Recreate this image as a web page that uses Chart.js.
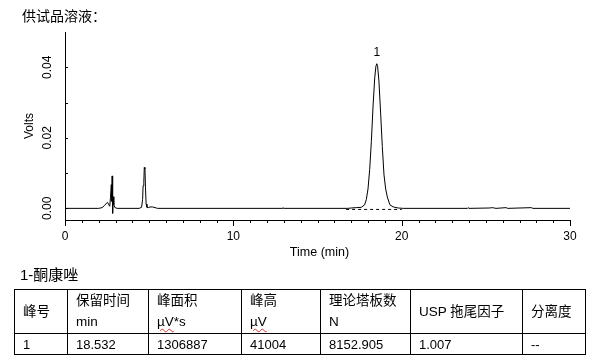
<!DOCTYPE html>
<html>
<head>
<meta charset="utf-8">
<script src="https://cdn.jsdelivr.net/npm/chart.js@4"></script>
<style>
  html, body { margin: 0; padding: 0; background: #fff; }
  #wrap { position: relative; width: 604px; height: 362px; overflow: hidden; background: #fff; }
  #c { position: absolute; left: 0; top: 0; }
  .txt { position: absolute; font-family: "Liberation Sans", "Noto Sans CJK SC", sans-serif; color: #000; white-space: nowrap; }
  #title { left: 22px; top: 6px; font-size: 14px; line-height: 20px; }
  #sub { left: 20px; top: 265px; font-size: 15px; line-height: 20px; }
  table { position: absolute; left: 14px; top: 289px; border-collapse: collapse; table-layout: fixed;
          font-family: "Liberation Sans", "Noto Sans CJK SC", sans-serif; font-size: 13px; color: #000; }
  td { border: 1px solid #000; padding: 0 0 0 8px; box-sizing: border-box; white-space: nowrap; overflow: hidden; }
  tr.h td { height: 44px; vertical-align: top; line-height: 21px; font-size: 13.5px; }
  tr.h td.m { vertical-align: middle; }
  tr.d td { height: 21px; vertical-align: middle; line-height: 19px; }
  .sq { text-decoration: underline wavy #e03030; text-decoration-thickness: 1px; text-underline-offset: 2px; }
</style>
</head>
<body>
<div id="wrap">
  <canvas id="c" width="604" height="362"></canvas>
  <div class="txt" id="title">供试品溶液：</div>
  <div class="txt" id="sub">1-酮康唑</div>
  <table id="tbl">
    <colgroup>
      <col style="width:53px"><col style="width:81px"><col style="width:93px"><col style="width:79px">
      <col style="width:90px"><col style="width:112px"><col style="width:63px">
    </colgroup>
    <tr class="h">
      <td class="m">峰号</td>
      <td>保留时间<br>min</td>
      <td>峰面积<br><span class="sq">µV</span>*s</td>
      <td>峰高<br><span class="sq">µV</span></td>
      <td>理论塔板数<br>N</td>
      <td class="m">USP 拖尾因子</td>
      <td class="m">分离度</td>
    </tr>
    <tr class="d" id="drow"></tr>
  </table>
</div>
<script>
// ---- Data ----
const times = [
  0, 2.0, 2.2, 2.35, 2.45, 2.53, 2.6, 2.66, 2.70, 2.75, 2.78, 2.80, 2.83, 2.86, 2.90, 2.97, 3.1,
  4.4, 4.55, 4.61, 4.64, 4.68, 4.71, 4.75, 4.78, 4.82, 4.87, 4.95, 5.05, 5.2, 5.35, 5.5,
  12.9, 12.95, 13.0,
  16.8, 17.0, 17.3, 17.6, 17.8, 17.9, 18.0, 18.1, 18.2, 18.3, 18.4, 18.47, 18.52, 18.57, 18.65,
  18.75, 18.85, 18.95, 19.05, 19.15, 19.3, 19.5, 19.8, 20.1,
  23.9, 23.95, 24.0, 25.2, 25.4, 25.6, 26.2, 26.3, 27.7, 27.8, 30
];
const volts = [
  0, 0, 0.0002, 0.0008, 0.0014, 0.0017, 0.0010, 0.0006, 0.0030, 0.0067, 0.0020, 0.0092, -0.0014, 0.0033, 0.0010, 0.0002, 0,
  0, 0.0003, 0.0025, 0.0064, 0.0070, 0.0116, 0.0112, 0.0060, 0.0012, 0.0003, 0.0002, 0.0004, 0.0004, 0.0002, 0,
  0, 0.0002, 0,
  0, 0.0001, 0.0002, 0.0003, 0.0010, 0.0025, 0.0055, 0.0110, 0.0190, 0.0290, 0.0370, 0.0403, 0.0410, 0.0403, 0.0360,
  0.0270, 0.0175, 0.0095, 0.0055, 0.0032, 0.0010, 0.0004, 0.0001, 0,
  0, 0.0002, 0, 0.0001, 0.0002, 0, 0.0002, 0, 0.0002, 0, 0
];
// Integration baseline under peak 1 (dashed)
const baseTimes = [16.7, 20.0];
const baseVolts = [-0.0003, -0.0003];
// Peak annotation
const peakLabels = ["1"];
const peakTimes = [18.52];
const peakHeights = [0.0410];
// Axis settings
const xMin = 0, xMax = 30, xStep = 1, xLabelEvery = 10;
const yMin = -0.0033, yMax = 0.05;
const yTickValues = [0, 0.01, 0.02, 0.03, 0.04];
const yTickLabels = ["0.00", "", "0.02", "", "0.04"];
const xTitle = "Time (min)";
const yTitle = "Volts";
// Table data row
const rowValues = ["1", "18.532", "1306887", "41004", "8152.905", "1.007", "--"];

document.getElementById('drow').innerHTML = rowValues.map(v => '<td>' + v + '</td>').join('');

const trace = times.map((t, i) => ({ x: t, y: volts[i] }));
const base = baseTimes.map((t, i) => ({ x: t, y: baseVolts[i] }));

const FONT = '"Liberation Sans", "DejaVu Sans", sans-serif';

const decor = {
  id: 'decor',
  afterDraw(chart) {
    const ctx = chart.ctx;
    const xs = chart.scales.x, ys = chart.scales.y;
    const ca = chart.chartArea;
    ctx.save();
    ctx.strokeStyle = '#000';
    ctx.lineWidth = 1;
    // x ticks (downward)
    xs.ticks.forEach(tk => {
      const px = Math.round(xs.getPixelForValue(tk.value)) + 0.5;
      const major = Math.abs(tk.value % xLabelEvery) < 1e-9;
      ctx.beginPath();
      ctx.moveTo(px, ca.bottom);
      ctx.lineTo(px, ca.bottom + (major ? 6 : 3));
      ctx.stroke();
    });
    // y ticks (inward) + rotated labels
    ctx.fillStyle = '#000';
    ctx.font = '12px ' + FONT;
    ctx.textAlign = 'center';
    ctx.textBaseline = 'middle';
    yTickValues.forEach((v, i) => {
      const py = Math.round(ys.getPixelForValue(v)) + 0.5;
      ctx.beginPath();
      ctx.moveTo(ca.left, py);
      ctx.lineTo(ca.left + 3, py);
      ctx.stroke();
      if (yTickLabels[i]) {
        ctx.save();
        ctx.translate(48, ys.getPixelForValue(v));
        ctx.rotate(-Math.PI / 2);
        ctx.fillText(yTickLabels[i], 0, 0);
        ctx.restore();
      }
    });
    // y title
    ctx.save();
    ctx.translate(30, (ca.top + ca.bottom) / 2);
    ctx.rotate(-Math.PI / 2);
    ctx.font = '12px ' + FONT;
    ctx.fillText(yTitle, 0, 0);
    ctx.restore();
    // x title
    ctx.font = '12.5px ' + FONT;
    ctx.fillText(xTitle, (ca.left + ca.right) / 2 + 2, 253);
    // peak labels
    ctx.font = '12px ' + FONT;
    peakLabels.forEach((lab, i) => {
      ctx.fillText(lab, xs.getPixelForValue(peakTimes[i]), ys.getPixelForValue(peakHeights[i]) - 11);
    });
    ctx.restore();
  }
};

new Chart(document.getElementById('c'), {
  type: 'line',
  data: {
    datasets: [
      { data: trace, borderColor: '#000', borderWidth: 1, pointRadius: 0, tension: 0, fill: false },
      { data: base, borderColor: '#000', borderWidth: 1, borderDash: [3, 3], pointRadius: 0, tension: 0, fill: false }
    ]
  },
  options: {
    responsive: false,
    animation: false,
    events: [],
    layout: { padding: { left: 0, right: 34, top: 32, bottom: 0 } },
    plugins: { legend: { display: false }, tooltip: { enabled: false }, title: { display: false } },
    scales: {
      x: {
        type: 'linear', min: xMin, max: xMax,
        grid: { display: false, drawTicks: false },
        border: { display: true, color: '#000', width: 1 },
        ticks: {
          stepSize: xStep, autoSkip: false, maxRotation: 0, padding: 9,
          color: '#000', font: { family: FONT, size: 12 },
          callback: v => (Math.abs(v % xLabelEvery) < 1e-9 ? String(v) : '')
        },
        afterFit: s => { s.height = 142; }
      },
      y: {
        type: 'linear', min: yMin, max: yMax,
        grid: { display: false, drawTicks: false },
        border: { display: true, color: '#000', width: 1 },
        ticks: { display: true, callback: () => '' },
        afterFit: s => { s.width = 65; }
      }
    }
  },
  plugins: [decor]
});
</script>
</body>
</html>
